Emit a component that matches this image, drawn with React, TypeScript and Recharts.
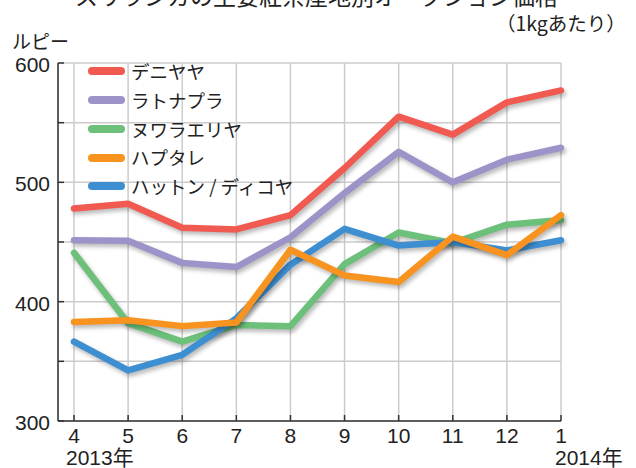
import { LineChart, Line, XAxis, YAxis, CartesianGrid } from "recharts";

const MONTHS = ["4", "5", "6", "7", "8", "9", "10", "11", "12", "1"];
const DENIYAYA = [478, 482, 462, 460.5, 472.5, 512, 555, 540, 567, 577];
const RATNAPURA = [451.5, 451, 432.5, 429, 454, 491, 525.5, 500, 519, 529];
const NUWARA_ELIYA = [441, 382, 366.5, 380.5, 379.5, 431.5, 458, 449, 464.5, 468.5];
const HAPUTALE = [383, 384.5, 379.5, 382.5, 443.5, 422, 416.5, 454.5, 439, 472.5];
const HATTON_DICKOYA = [366.5, 342.5, 355.5, 386, 431, 461, 447, 450, 443, 451.5];
const Y_TICKS = [300, 350, 400, 450, 500, 550, 600];

// legend order
const SERIES = [
  { key: "deniyaya", name: "デニヤヤ", color: "#f05a50", values: DENIYAYA },
  { key: "ratnapura", name: "ラトナプラ", color: "#9d93c8", values: RATNAPURA },
  { key: "nuwara", name: "ヌワラエリヤ", color: "#6cc07a", values: NUWARA_ELIYA },
  { key: "haputale", name: "ハプタレ", color: "#f7931e", values: HAPUTALE },
  { key: "hatton", name: "ハットン / ディコヤ", color: "#3d8fd1", values: HATTON_DICKOYA },
];

// drawing order (bottom to top)
const DRAW_ORDER = ["deniyaya", "ratnapura", "nuwara", "hatton", "haputale"];

const data = MONTHS.map((m, i) => {
  const row: Record<string, string | number> = { month: m };
  SERIES.forEach((s) => (row[s.key] = s.values[i]));
  return row;
});

const NUM_FONT = "'Liberation Sans', Arial, 'Noto Sans CJK JP', sans-serif";
const JP_FONT = "'Noto Sans CJK JP', 'Liberation Sans', sans-serif";

function YTick({ x, y, payload }: any) {
  const v = payload.value;
  return (
    <g>
      <line x1={x} x2={x + 6} y1={y} y2={y} stroke="#333" strokeWidth={1.5} />
      {v % 100 === 0 && (
        <text x={x - 8} y={y + 9} textAnchor="end" fontSize={21} fill="#222" fontFamily={NUM_FONT}>
          {v}
        </text>
      )}
    </g>
  );
}

function XTick({ x, y, payload, index }: any) {
  return (
    <g>
      <line x1={x} x2={x} y1={y} y2={y - 6} stroke="#333" strokeWidth={1.5} />
      <text x={x} y={y + 22} textAnchor="middle" fontSize={21} fill="#222" fontFamily={NUM_FONT}>
        {payload.value}
      </text>
      {index === 0 && (
        <text x={x - 8} y={y + 44} fontSize={21} fill="#222" fontFamily={NUM_FONT}>
          2013年
        </text>
      )}
      {index === MONTHS.length - 1 && (
        <text x={x - 6} y={y + 44} fontSize={21} fill="#222" fontFamily={NUM_FONT}>
          2014年
        </text>
      )}
    </g>
  );
}

export default function App() {
  return (
    <div style={{ position: "absolute", left: 0, top: 0, width: 636, height: 468, overflow: "hidden", background: "#fff" }}>
      <style>{`.recharts-line-curve { filter: drop-shadow(2px 3px 2px rgba(0,0,0,0.28)); }`}</style>

      {/* cut-off title */}
      <div style={{ position: "absolute", right: 78, top: -16, fontSize: 23, lineHeight: 1, fontFamily: JP_FONT, color: "#222", whiteSpace: "nowrap" }}>
        スリランカの主要紅茶産地別オークション価格
      </div>
      <div style={{ position: "absolute", left: 496, top: 13, fontSize: 19.5, lineHeight: 1, fontFamily: JP_FONT, color: "#222" }}>
        （1kgあたり）
      </div>
      <div style={{ position: "absolute", left: 12, top: 31, fontSize: 19, lineHeight: 1, fontFamily: JP_FONT, color: "#222" }}>
        ルピー
      </div>

      <LineChart width={636} height={468} data={data} margin={{ top: 63, right: 75, bottom: 0, left: 0 }}>
        <CartesianGrid stroke="#cccccc" strokeWidth={1.5} />
        <XAxis
          dataKey="month"
          interval={0}
          padding={{ left: 16, right: 0 }}
          height={47}
          tickSize={0}
          tickMargin={0}
          tickLine={false}
          axisLine={{ stroke: "#333", strokeWidth: 1.5 }}
          tick={<XTick />}
        />
        <YAxis
          domain={[300, 600]}
          ticks={Y_TICKS}
          width={58}
          tickSize={0}
          tickMargin={0}
          tickLine={false}
          axisLine={{ stroke: "#333", strokeWidth: 1.5 }}
          tick={<YTick />}
        />
        {DRAW_ORDER.map((k) => {
          const s = SERIES.find((x) => x.key === k)!;
          return (
            <Line
              key={s.key}
              dataKey={s.key}
              name={s.name}
              stroke={s.color}
              strokeWidth={6.5}
              strokeLinecap="round"
              strokeLinejoin="round"
              dot={false}
              activeDot={false}
              isAnimationActive={false}
            />
          );
        })}
      </LineChart>

      {/* legend */}
      <div style={{ position: "absolute", left: 88, top: 57, fontFamily: JP_FONT }}>
        {SERIES.map((s) => (
          <div key={s.key} style={{ height: 28.75, display: "flex", alignItems: "center" }}>
            <div style={{ width: 37, height: 8, borderRadius: 4, background: s.color, marginRight: 6 }} />
            <span style={{ fontSize: 18.5, color: "#222", lineHeight: 1 }}>{s.name}</span>
          </div>
        ))}
      </div>
    </div>
  );
}
